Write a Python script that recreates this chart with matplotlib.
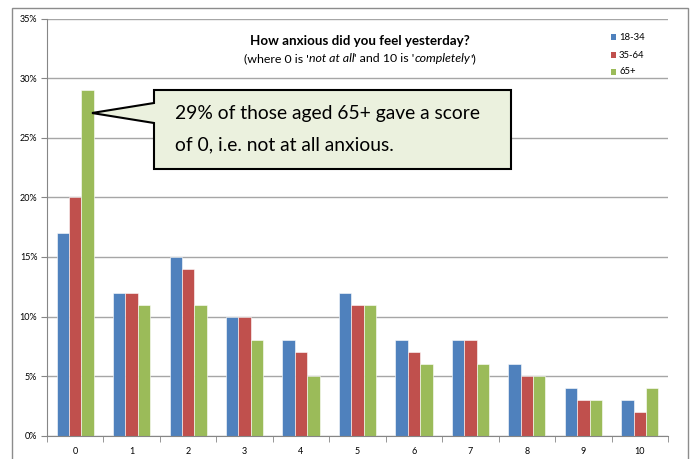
import matplotlib
matplotlib.use("Agg")
import matplotlib.pyplot as plt
from matplotlib.patches import Polygon, Rectangle
from matplotlib.offsetbox import TextArea, HPacker, AnnotationBbox
import numpy as np

plt.rcParams['font.family'] = ['Lato', 'DejaVu Sans']

categories = ['0', '1', '2', '3', '4', '5', '6', '7', '8', '9', '10']
series_names = ['18-34', '35-64', '65+']
v_18_34 = [17, 12, 15, 10, 8, 12, 8, 8, 6, 4, 3]
v_35_64 = [20, 12, 14, 10, 7, 11, 7, 8, 5, 3, 2]
v_65 = [29, 11, 11, 8, 5, 11, 6, 6, 5, 3, 4]
colors = ['#4F81BD', '#C0504D', '#9BBB59']
yticks = [0, 5, 10, 15, 20, 25, 30, 35]

W, H = 693, 459
fig = plt.figure(figsize=(W / 100, H / 100), dpi=100)

# outer chart border
fig.patches.append(Rectangle((12 / W, -0.02), (688 - 12) / W, (H - 8) / H + 0.02,
                             transform=fig.transFigure, fill=False,
                             edgecolor='#8C8C8C', linewidth=1.0, clip_on=False))

L, R, T, B = 47, 668, 18.7, 435.7
ax = fig.add_axes([L / W, (H - B) / H, (R - L) / W, (B - T) / H])

x = np.arange(len(categories))
bw = 0.22
for i, (vals, c) in enumerate(zip([v_18_34, v_35_64, v_65], colors)):
    ax.bar(x + (i - 1) * bw, np.array(vals) / 100, width=bw, color=c,
           edgecolor='white', linewidth=0.4, zorder=3, label=series_names[i])

ax.set_xlim(-0.5, len(categories) - 0.5)
ax.set_ylim(0, 0.35)
ax.set_yticks([t / 100 for t in yticks])
ax.set_yticklabels([f'{t}%' for t in yticks])
ax.set_xticks(x)
ax.set_xticklabels(categories)
ax.set_xticks(np.arange(-0.5, len(categories), 1), minor=True)
ax.tick_params(axis='x', which='major', length=0, labelsize=6.5, pad=8, colors='#000000')
ax.tick_params(axis='x', which='minor', length=4, color='#868686', direction='out')
ax.tick_params(axis='y', which='major', length=4, color='#868686', labelsize=6.5, pad=3)
ax.grid(axis='y', color='#A6A6A6', linewidth=1.0, zorder=0)
ax.set_axisbelow(True)
for s in ['top', 'right']:
    ax.spines[s].set_visible(False)
for s in ['left', 'bottom']:
    ax.spines[s].set_color('#868686')
    ax.spines[s].set_zorder(4)

# title
fig.text(360 / W, 1 - 41 / H, 'How anxious did you feel yesterday?', ha='center', va='center',
         fontsize=9.6, fontweight='bold')
parts = [("(where 0 is '", 'normal'), ('not at all', 'italic'), ("' and 10 is '", 'normal'),
         ('completely', 'italic'), ("')", 'normal')]
areas = [TextArea(s, textprops=dict(fontsize=8.9, fontstyle=st)) for s, st in parts]
pack = HPacker(children=areas, pad=0, sep=0, align='baseline')
fig.add_artist(AnnotationBbox(pack, (360 / W, 1 - 59 / H), xycoords='figure fraction',
                              frameon=False, box_alignment=(0.5, 0.5), pad=0))

# legend
leg_y = [37, 55, 72]
for name, c, yy in zip(series_names, colors, leg_y):
    fig.patches.append(Rectangle((611 / W, 1 - (yy + 2.5) / H), 5 / W, 5 / H,
                                 transform=fig.transFigure, facecolor=c, edgecolor='none'))
    fig.text(619 / W, 1 - yy / H, name, ha='left', va='center', fontsize=6.8)

# callout
def px2data(px, py):
    xd = (px - L) / ((R - L) / len(categories)) - 0.5
    yd = (B - py) / (B - T) * 0.35
    return (xd, yd)

pts = [px2data(154, 90), px2data(511, 90), px2data(511, 169), px2data(154, 169),
       px2data(154, 123), px2data(92, 113), px2data(154, 103)]
ax.add_patch(Polygon(pts, closed=True, facecolor='#EBF1DE', edgecolor='black',
                     linewidth=1.5, zorder=6, clip_on=False, joinstyle='miter'))
ax.text(*px2data(175, 114), '29% of those aged 65+ gave a score', ha='left', va='center',
        fontsize=13.9, zorder=7)
ax.text(*px2data(175, 145), 'of 0, i.e. not at all anxious.', ha='left', va='center',
        fontsize=13.9, zorder=7)

fig.savefig('out.png', dpi=100)
